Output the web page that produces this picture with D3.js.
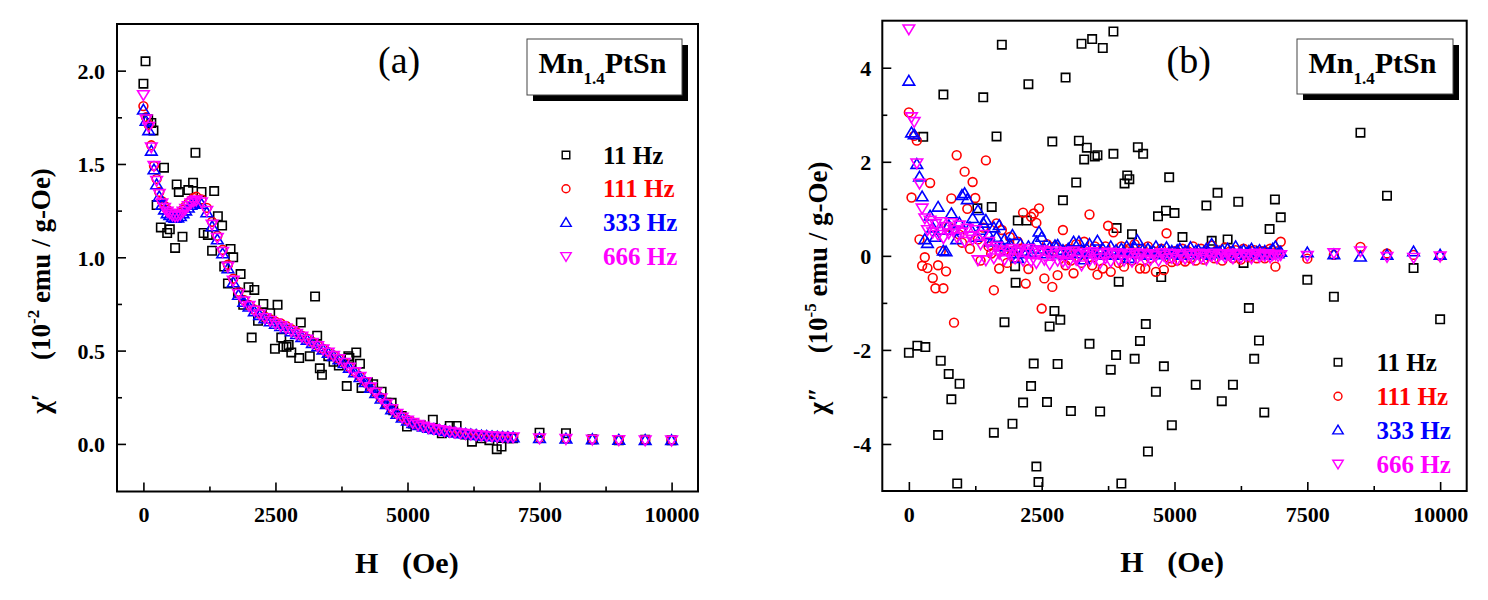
<!DOCTYPE html>
<html><head><meta charset="utf-8">
<script src="https://cdn.jsdelivr.net/npm/d3@7"></script>
<style>body{margin:0;background:#fff}svg{display:block}text{white-space:pre}</style>
</head><body>
<svg id="c" width="1488" height="600"></svg>
<script>
// ---------------- DATA ----------------
const FREQ_LABELS = ["11 Hz","111 Hz","333 Hz","666 Hz"];
const X_TICKS = [0,2500,5000,7500,10000];
const X_MINOR = [1250,3750,6250,8750];
const YA_TICKS = [0.0,0.5,1.0,1.5,2.0];
const YA_MINOR = [0.25,0.75,1.25,1.75];
const YB_TICKS = [-4,-2,0,2,4];
const YB_MINOR = [-3,-1,1,3];

// panel (a): chi' grid
const H_A = [0,50,100,150,200,250,300,350,400,450,500,550,600,650,700,750,800,850,900,950,1000,
1100,1200,1300,1400,1500,1600,1700,1800,1900,2000,2100,2200,2300,2400,2500,2600,2700,2800,2900,3000,
3100,3200,3300,3400,3500,3600,3700,3800,3900,4000,4100,4200,4300,4400,4500,4600,4700,4800,4900,5000,
5100,5200,5300,5400,5500,5600,5700,5800,5900,6000,6100,6200,6300,6400,6500,6600,6700,6800,6900,7000,
7500,8000,8500,9000,9500,10000];
const A_111 = [1.81,1.75,1.71,1.60,1.49,1.42,1.35,1.30,1.275,1.255,1.24,1.23,1.225,1.228,1.24,1.255,1.275,1.29,1.305,1.318,1.325,
1.31,1.265,1.19,1.115,1.04,0.96,0.885,0.815,0.772,0.745,0.72,0.70,0.682,0.668,0.655,0.645,0.632,0.615,0.598,0.58,
0.564,0.546,0.528,0.51,0.492,0.474,0.457,0.437,0.412,0.387,0.362,0.334,0.305,0.277,0.247,0.217,0.189,0.164,0.144,0.128,
0.115,0.104,0.095,0.087,0.081,0.076,0.071,0.066,0.062,0.058,0.055,0.052,0.049,0.046,0.044,0.042,0.040,0.039,0.038,0.037,
0.03,0.028,0.025,0.022,0.021,0.02];
const A_333 = [1.79,1.73,1.68,1.57,1.47,1.39,1.325,1.28,1.255,1.235,1.225,1.215,1.21,1.212,1.22,1.235,1.25,1.265,1.28,1.29,1.295,
1.285,1.24,1.165,1.095,1.02,0.94,0.865,0.798,0.76,0.735,0.71,0.69,0.672,0.656,0.642,0.63,0.617,0.602,0.587,0.572,
0.557,0.54,0.522,0.505,0.487,0.47,0.452,0.432,0.407,0.382,0.357,0.33,0.3,0.272,0.242,0.213,0.185,0.16,0.14,0.124,
0.111,0.1,0.092,0.085,0.079,0.074,0.069,0.064,0.06,0.056,0.053,0.05,0.047,0.044,0.042,0.04,0.038,0.037,0.036,0.035,
0.03,0.027,0.024,0.021,0.02,0.019];
const A_666 = [1.87,1.74,1.70,1.59,1.49,1.41,1.34,1.29,1.265,1.245,1.235,1.225,1.22,1.222,1.23,1.245,1.26,1.275,1.29,1.30,1.305,
1.295,1.25,1.175,1.105,1.03,0.95,0.875,0.805,0.765,0.74,0.715,0.695,0.675,0.66,0.645,0.632,0.62,0.605,0.59,0.575,
0.56,0.542,0.525,0.507,0.49,0.472,0.455,0.435,0.41,0.385,0.36,0.332,0.303,0.275,0.245,0.215,0.187,0.162,0.142,0.126,
0.113,0.102,0.093,0.086,0.08,0.075,0.07,0.065,0.061,0.057,0.054,0.051,0.048,0.045,0.043,0.041,0.039,0.038,0.037,0.036,
0.03,0.027,0.024,0.021,0.02,0.019];
const H_A11 = [0,40,90,150,190,250,330,390,450,500,600,630,670,740,850,940,985,1100,1140,1220,
1300,1340,1410,1490,1530,1600,1650,1700,1790,1840,1890,1990,2050,2100,2170,2270,2400,2490,2540,2610,
2650,2710,2750,2800,2950,2980,3150,3250,3290,3340,3380,3500,3600,3700,3850,3880,3900,4030,4100,4130,
4250,4350,4510,4600,4700,4730,4890,4990,5100,5250,5480,5650,5800,5930,6100,6220,6400,6550,6690,6780,
6900,7000,7500,8000,8500,9000,9500,10000];
const A_11 = [1.93,2.05,1.74,1.72,1.68,1.28,1.16,1.48,1.13,1.15,1.05,1.39,1.35,1.11,1.36,1.40,1.56,1.35,1.13,1.12,
1.035,1.355,1.22,1.17,0.95,0.86,1.045,1.0,0.81,0.91,0.745,0.84,0.57,0.825,0.66,0.75,0.70,0.51,0.745,0.57,
0.52,0.52,0.53,0.49,0.46,0.65,0.47,0.79,0.58,0.405,0.37,0.47,0.44,0.42,0.31,0.47,0.46,0.49,0.43,0.30,
0.33,0.32,0.28,0.22,0.22,0.18,0.15,0.093,0.11,0.10,0.13,0.057,0.096,0.096,0.05,0.012,0.03,0.02,-0.028,-0.014,
0.03,0.03,0.06,0.057,0.025,0.02,0.022,0.02];

// panel (b): chi'' grid
const H_B = [0,50,100,150,200,250,300,350,400,450,500,550,600,650,700,750,800,850,900,950,
1000,1050,1100,1150,1200,1250,1300,1350,1400,1450,1500,1550,1600,1650,1700,1750,1800,1850,1900,1950,
2000,2050,2100,2150,2200,2250,2300,2350,2400,2450,2500,2550,2600,2650,2700,2750,2800,2850,2900,2950,
3000,3050,3100,3150,3200,3250,3300,3350,3400,3450,3500,3550,3600,3650,3700,3750,3800,3850,3900,3950,
4000,4050,4100,4150,4200,4250,4300,4350,4400,4450,4500,4550,4600,4650,4700,4750,4800,4850,4900,4950,
5000,5050,5100,5150,5200,5250,5300,5350,5400,5450,5500,5550,5600,5650,5700,5750,5800,5850,5900,5950,
6000,6050,6100,6150,6200,6250,6300,6350,6400,6450,6500,6550,6600,6650,6700,6750,6800,6850,6900,6950,
7000,7500,8000,8500,9000,9500,10000];
const B_111 = [3.05,1.24,2.55,2.45,0.35,-0.21,-0.03,-0.26,1.55,-0.47,-0.69,-0.20,0.10,-0.69,-0.33,0.62,1.22,-1.42,2.14,0.45,
0.28,1.79,1.00,0.15,1.57,1.23,0.35,-0.10,0.60,2.03,0.20,0.05,-0.73,0.69,-0.27,0.55,0.12,-0.15,0.40,0.10,
-0.05,0.30,0.15,0.92,-0.59,-0.28,0.83,0.90,0.70,1.01,-1.12,-0.48,0.25,0.10,-0.66,0.20,-0.41,0.05,0.55,-0.20,
0.15,-0.10,-0.37,0.25,0.10,-0.15,0.30,0.05,0.88,-0.20,0.20,-0.40,0.10,-0.27,0.20,0.64,-0.34,0.50,0.05,-0.15,
0.20,-0.23,0.10,0.15,-0.10,0.25,0.05,-0.27,0.15,-0.27,0.20,-0.05,0.10,-0.34,0.05,0.15,-0.30,0.48,-0.05,-0.13,
0.10,-0.10,0.05,0.15,-0.12,0.10,-0.05,0.20,-0.10,0.05,0.15,-0.08,0.10,0.00,0.22,-0.05,0.12,0.05,-0.10,0.18,
0.02,0.10,-0.05,0.12,0.03,-0.08,0.15,0.05,-0.03,0.10,0.12,-0.05,0.05,0.10,-0.05,0.08,0.15,0.05,-0.23,0.10,
0.30,-0.06,0.02,0.19,0.05,0.02,0.00];
const B_333 = [3.72,2.62,2.58,1.95,1.68,1.26,0.35,0.27,0.85,0.60,0.40,1.04,0.55,0.11,0.09,0.65,0.90,0.55,0.35,0.70,
1.29,1.33,1.20,0.60,0.80,0.40,0.97,0.55,0.70,0.76,0.45,0.30,0.60,0.40,0.65,0.20,0.35,0.10,0.25,0.44,
0.05,-0.05,0.25,0.10,0.05,0.20,0.08,0.15,0.30,0.51,0.40,0.15,0.05,0.18,0.10,0.22,0.23,0.05,0.12,0.02,
0.15,0.08,0.30,0.05,0.30,0.12,-0.08,0.15,0.25,0.05,0.10,0.32,0.08,0.15,0.02,0.10,0.20,0.05,0.12,0.02,
0.15,0.08,0.20,-0.05,0.10,0.18,0.33,0.05,0.12,0.02,0.15,0.08,0.10,0.20,0.05,0.12,0.03,0.18,0.08,0.10,
0.05,0.12,0.15,0.02,0.10,0.08,0.18,0.03,0.10,0.12,0.05,0.08,0.15,0.02,0.25,0.05,0.10,0.08,0.12,0.03,
0.15,0.05,0.10,0.20,0.02,0.08,0.12,0.05,0.10,0.15,0.03,0.08,0.12,0.05,0.10,0.02,0.08,0.15,0.20,0.05,
0.08,0.07,0.03,-0.02,0.02,0.09,0.02];
const B_666 = [4.82,2.95,2.85,1.97,1.54,1.01,0.80,0.55,0.75,0.50,0.68,0.45,0.72,0.38,0.62,0.48,0.70,0.55,0.40,0.65,
0.50,0.30,0.58,0.42,0.35,0.55,-0.09,0.25,0.45,-0.09,0.30,0.15,-0.05,0.20,0.05,0.12,-0.08,0.10,0.02,0.15,
-0.05,0.08,0.12,-0.10,0.05,0.15,-0.12,0.10,-0.15,0.05,0.12,-0.08,0.08,-0.18,0.02,0.10,-0.10,0.05,-0.12,0.08,
-0.15,0.05,0.10,-0.08,0.02,-0.20,0.06,0.00,-0.10,0.08,-0.06,0.04,-0.15,0.05,-0.05,0.07,-0.12,0.02,0.06,-0.08,
0.03,-0.10,0.05,0.00,-0.12,0.06,-0.05,0.02,0.05,-0.10,0.03,-0.08,0.04,0.00,-0.10,0.06,0.01,-0.06,0.05,-0.04,
0.03,-0.08,0.04,0.00,-0.06,0.05,0.01,-0.07,0.03,0.05,-0.04,0.02,-0.08,0.04,0.00,0.05,-0.05,0.02,0.04,-0.03,
0.03,0.00,-0.05,0.05,0.02,-0.04,0.04,0.00,0.03,-0.05,0.02,0.05,-0.02,0.03,0.00,0.04,-0.03,0.02,0.03,0.00,
0.02,0.00,0.06,0.10,-0.02,-0.04,-0.01];
const H_B11 = [0,160,310,270,600,750,955,800,550,650,910,1400,1650,1750,1560,1290,1800,1600,1950,2150,
2300,2350,2250,2050,2220,2010,2000,2400,2440,2600,2650,2740,2850,2800,2700,2900,2950,3050,3150,3200,
3350,3300,3500,3550,3250,3450,3650,3850,3400,3600,3850,3910,3950,3900,3800,4000,4110,4060,4150,4200,
4310,4410,4250,4350,4460,4500,4650,4750,4690,4840,5000,4900,4800,4950,5150,5400,5600,5810,5700,6000,
6200,5890,6100,6300,6400,6590,6500,6690,6790,6890,7000,7500,8000,8500,9000,9500,10000];
const B_11 = [-2.06,-1.91,-1.94,2.53,-2.23,-2.51,-2.72,-3.05,-3.81,3.43,-4.84,3.37,2.54,4.49,1.04,1.01,-1.41,-3.76,-3.57,-3.12,
-2.77,-2.29,3.65,0.75,0.75,-0.57,-0.22,-4.48,-4.81,-3.11,-1.50,-1.17,-1.36,-2.30,2.43,1.18,3.79,-3.30,1.56,2.45,
2.30,2.05,2.11,2.14,4.51,4.61,4.42,4.77,-1.87,-3.31,2.17,0.59,-0.55,-2.11,-2.42,-4.84,1.71,1.54,1.63,0.46,
2.31,2.17,-2.19,-1.81,-1.45,-4.16,-2.89,-0.45,0.84,0.96,0.91,1.67,-2.35,-3.60,0.40,-2.74,1.07,1.34,0.32,0.35,
1.15,-3.09,-2.74,-0.15,-1.11,-1.80,-2.19,-3.33,0.57,1.20,0.82,-0.51,-0.87,2.62,1.28,-0.26,-1.35];

// ---------------- DRAWING ----------------
const COLORS = ["#000000","#ff0000","#0000ff","#ff00ff"];
const SYMS = [
  "M-4.2,-4.2h8.4v8.4h-8.4z",
  "M4.4,0A4.4,4.4 0 1,1 -4.4,0A4.4,4.4 0 1,1 4.4,0Z",
  "M0,-5.5L5.8,4.2L-5.8,4.2Z",
  "M0,5.5L5.8,-4.2L-5.8,-4.2Z"
];
const FONT = "Liberation Serif, Times New Roman, serif";
const svg = d3.select("#c");
svg.append("rect").attr("width",1488).attr("height",600).attr("fill","#fff");

function panel(p){
  const g = svg.append("g");
  const x = d3.scaleLinear().domain([-500,10500]).range([p.x0,p.x1]);
  const y = d3.scaleLinear().domain(p.yDom).range([p.y1,p.y0]);
  const cid = "clip"+p.id;
  svg.append("clipPath").attr("id",cid).append("rect")
    .attr("x",p.x0).attr("y",p.y0).attr("width",p.x1-p.x0).attr("height",p.y1-p.y0);
  const dg = g.append("g").attr("clip-path",`url(#${cid})`);
  p.series.forEach((s,k)=>{
    const pts = s.H.map((h,i)=>[h,s.V[i]]);
    dg.append("g").selectAll("path").data(pts).join("path")
      .attr("transform",d=>`translate(${x(d[0])},${y(d[1])})`)
      .attr("d",SYMS[k]).attr("fill","none").attr("stroke",COLORS[k]).attr("stroke-width",1.6);
  });
  // axes
  const styleAxis = a => { a.select(".domain").remove();
    a.attr("font-family",FONT).attr("font-size",22).attr("font-weight","bold");
    a.selectAll("text").attr("font-family",FONT);
    a.selectAll("line").attr("stroke-width",1.6); };
  g.append("g").attr("transform",`translate(0,${p.y1})`)
    .call(d3.axisBottom(x).tickValues(X_TICKS).tickSize(-9).tickPadding(15).tickFormat(d3.format("d"))).call(styleAxis);
  g.append("g").attr("transform",`translate(0,${p.y1})`)
    .call(d3.axisBottom(x).tickValues(X_MINOR).tickSize(-5).tickFormat("")).call(styleAxis);
  g.append("g").attr("transform",`translate(${p.x0},0)`)
    .call(d3.axisLeft(y).tickValues(p.yTicks).tickSize(-9).tickPadding(p.yPad).tickFormat(p.yFmt)).call(styleAxis)
    .selectAll("text").attr("dy","0.36em");
  g.append("g").attr("transform",`translate(${p.x0},0)`)
    .call(d3.axisLeft(y).tickValues(p.yMinor).tickSize(-5).tickFormat("")).call(styleAxis);
  g.append("rect").attr("x",p.x0).attr("y",p.y0).attr("width",p.x1-p.x0).attr("height",p.y1-p.y0)
    .attr("fill","none").attr("stroke","#000").attr("stroke-width",2);

  // x title
  const xt = g.append("text").attr("font-family",FONT).attr("font-weight","bold").attr("font-size",30).attr("y",p.xtY);
  xt.append("tspan").attr("x",p.x0+238).text("H");
  xt.append("tspan").attr("x",p.x0+285).text("(Oe)");
  // y title
  const yt = g.append("text").attr("font-family",FONT).attr("font-weight","bold").attr("font-size",27)
    .attr("text-anchor","middle").attr("transform",`translate(${p.ytX},${p.ytY}) rotate(-90)`);
  yt.append("tspan").text(p.yChi+"     (10");
  yt.append("tspan").attr("font-size",17).attr("dy",-11).text(p.yExp);
  yt.append("tspan").attr("dy",11).text(" emu / g-Oe)");
  // panel letter
  g.append("text").attr("font-family",FONT).attr("font-size",38).attr("x",p.letX).attr("y",73).text(p.letter);
  // sample box
  const b = p.box;
  g.append("rect").attr("x",b.x+6).attr("y",b.y+6).attr("width",b.w).attr("height",b.h).attr("fill","#000");
  g.append("rect").attr("x",b.x).attr("y",b.y).attr("width",b.w).attr("height",b.h).attr("fill","#fff").attr("stroke","#444").attr("stroke-width",1);
  const bt = g.append("text").attr("font-family",FONT).attr("font-weight","bold").attr("font-size",30)
    .attr("x",b.x+11.5).attr("y",73);
  bt.append("tspan").text("Mn");
  bt.append("tspan").attr("font-size",17).attr("dy",11).text("1.4");
  bt.append("tspan").attr("dy",-11).text("PtSn");
  // legend
  FREQ_LABELS.forEach((lab,k)=>{
    const cy = p.leg.y + k*p.leg.dy;
    g.append("path").attr("d",SYMS[k]).attr("transform",`translate(${p.leg.sx},${cy}) scale(0.9)`)
      .attr("fill","none").attr("stroke",COLORS[k]).attr("stroke-width",1.6);
    g.append("text").attr("font-family",FONT).attr("font-weight","bold").attr("font-size",25)
      .attr("fill",COLORS[k]).attr("x",p.leg.tx).attr("y",cy+8.5).text(lab);
  });
}

panel({id:"a", x0:117, x1:698, y0:24, y1:491.5, yDom:[-0.255,2.25],
  yTicks:YA_TICKS, yMinor:YA_MINOR, yFmt:d3.format(".1f"), yPad:12,
  series:[{H:H_A11,V:A_11},{H:H_A,V:A_111},{H:H_A,V:A_333},{H:H_A,V:A_666}],
  xtY:572.5, ytX:50, ytY:291, yChi:"\u03c7\u2032", yExp:"-2",
  letX:378, letter:"(a)", box:{x:527,y:39,w:155,h:56},
  leg:{sx:566, y:155, dy:33.8, tx:603}});
panel({id:"b", x0:882.3, x1:1466.7, y0:20.7, y1:491, yDom:[-5,5],
  yTicks:YB_TICKS, yMinor:YB_MINOR, yFmt:d=>String(d), yPad:11,
  series:[{H:H_B11,V:B_11},{H:H_B,V:B_111},{H:H_B,V:B_333},{H:H_B,V:B_666}],
  xtY:572, ytX:827, ytY:288, yChi:"\u03c7\u2033", yExp:"-5",
  letX:1166.5, letter:"(b)", box:{x:1297,y:39,w:156,h:55},
  leg:{sx:1338, y:362.3, dy:33.9, tx:1376.5}});
</script>
</body></html>
